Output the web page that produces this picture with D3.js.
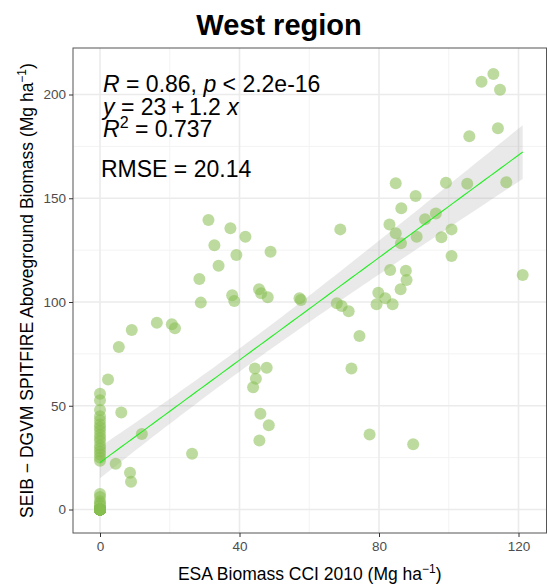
<!DOCTYPE html>
<html>
<head>
<meta charset="utf-8">
<script src="https://cdn.jsdelivr.net/npm/d3@7"></script>
<style>
body{margin:0;background:#fff;}
text{font-family:"Liberation Sans",Arial,sans-serif;}
</style>
</head>
<body>
<div class="scatter"></div>
<script>
// ESA CCI (x) vs SEIB-DGVM (y), one pair per site
// the x=0,y=0 corner is fully saturated: many sites stacked there
var esa=[0,0,0,0,0,0,0,0,0,0,0,0,0,0,0,0,0,0,0,0,0,0,0,0,0,
	0,0,0,0,0,0,0,0,0,0,0,0,0,0,0,0,0,0,0,0,0,0,0,
	2.3,4.5,5.4,6.1,8.6,8.9,9.1,12.0,16.3,20.6,21.5,26.4,28.5,28.9,31.1,32.8,34.0,37.4,37.9,38.5,
	39.1,41.7,43.9,44.4,44.7,45.6,45.7,46.0,46.2,47.8,48.1,48.4,48.9,57.2,57.6,67.9,68.9,69.3,
	71.3,72.1,74.4,77.3,79.3,79.8,81.8,83.0,83.2,83.9,84.8,84.8,86.2,86.3,86.4,87.7,87.9,89.8,
	90.5,90.8,93.2,96.3,97.9,99.2,100.8,100.8,105.3,105.9,109.4,112.8,114.1,114.7,116.5,121.2];
var seib=[0,0,0,0,0,0,0,0,0,0,0,0,0,0,0,0,0,0,0,0,0,0,0,0,3,
	0,0,2,4,6,7.5,23.5,25,26.5,28,29.5,31,33,34.5,36,38,39.5,41,43,45,48,52.6,55.8,
	62.6,22.1,78.3,46.7,17.7,13.4,86.5,36.4,90.0,89.3,87.3,26.9,111.1,99.7,139.5,127.3,117.5,135.5,103.2,100.5,
	122.7,131.5,58.9,68.0,63.0,106.1,33.3,46.2,104.2,68.3,102.3,40.6,124.2,101.8,101.0,99.4,135.0,98.1,
	95.5,68.0,83.6,36.1,98.9,104.5,101.8,137.4,115.4,98.9,157.2,133.1,106.2,128.3,145.2,115.1,110.6,31.4,
	151.1,131.5,139.9,142.7,131.2,157.5,135.0,122.2,157.0,179.9,206.2,209.9,183.7,202.3,157.7,113.0];
var xTicks=[0,40,80,120];
var xMinor=[20,60,100];
var yTicks=[0,50,100,150,200];
var yMinor=[25,75,125,175];
var statLines=["R = 0.86, p < 2.2e-16","y = 23 + 1.2 x","R2 = 0.737","RMSE = 20.14"];

var width=548,height=587;
var pLeft=73,pRight=546.5,pTop=48,pBottom=533;

var svg=d3.select('div.scatter')
	.append('svg')
	.attr('width',width)
	.attr('height',height);

var xScale=d3.scaleLinear().domain([0,120]).range([100,518.5]);
var yScale=d3.scaleLinear().domain([0,200]).range([509.5,94.5]);

var pts=esa.map(function(d,i){return {x:d,y:seib[i]};});

// grid
var grid=svg.append('g');
grid.selectAll('.vminor').data(xMinor).enter().append('line')
	.attr('x1',d=>xScale(d)).attr('x2',d=>xScale(d))
	.attr('y1',pTop).attr('y2',pBottom)
	.attr('stroke','#f3f3f3').attr('stroke-width',1);
grid.selectAll('.hminor').data(yMinor).enter().append('line')
	.attr('y1',d=>yScale(d)).attr('y2',d=>yScale(d))
	.attr('x1',pLeft).attr('x2',pRight)
	.attr('stroke','#f3f3f3').attr('stroke-width',1);
grid.selectAll('.vmajor').data(xTicks).enter().append('line')
	.attr('x1',d=>xScale(d)).attr('x2',d=>xScale(d))
	.attr('y1',pTop).attr('y2',pBottom)
	.attr('stroke','#ebebeb').attr('stroke-width',1.6);
grid.selectAll('.hmajor').data(yTicks).enter().append('line')
	.attr('y1',d=>yScale(d)).attr('y2',d=>yScale(d))
	.attr('x1',pLeft).attr('x2',pRight)
	.attr('stroke','#ebebeb').attr('stroke-width',1.6);

// linear fit + 95% band like geom_smooth(method="lm")
var n=pts.length;
var mx=d3.mean(pts,d=>d.x),my=d3.mean(pts,d=>d.y);
var sxx=d3.sum(pts,d=>(d.x-mx)*(d.x-mx));
var sxy=d3.sum(pts,d=>(d.x-mx)*(d.y-my));
var b=sxy/sxx,a=my-b*mx;
var sse=d3.sum(pts,d=>Math.pow(d.y-(a+b*d.x),2));
var se=Math.sqrt(sse/(n-2));
var tq=1.98;
var xr=d3.extent(esa);
var fit=d3.range(80).map(function(i){
	var x=xr[0]+(xr[1]-xr[0])*i/79;
	var h=tq*se*Math.sqrt(1/n+(x-mx)*(x-mx)/sxx);
	return {x:x,y:a+b*x,lo:a+b*x-h,hi:a+b*x+h};
});

svg.append('path').datum(fit)
	.attr('d',d3.area().x(d=>xScale(d.x)).y0(d=>yScale(d.lo)).y1(d=>yScale(d.hi)))
	.attr('fill','#999999').attr('fill-opacity',0.22);

// points
svg.append('g').selectAll('circle')
	.data(pts)
	.enter()
	.append('circle')
	.attr('cx',d=>xScale(d.x))
	.attr('cy',d=>yScale(d.y))
	.attr('r',6)
	.attr('fill','#87be50')
	.attr('fill-opacity',0.55);

svg.append('path').datum(fit)
	.attr('d',d3.line().x(d=>xScale(d.x)).y(d=>yScale(d.y)))
	.attr('fill','none').attr('stroke','#22ee22').attr('stroke-width',1.1);

// panel border
svg.append('rect')
	.attr('x',pLeft).attr('y',pTop)
	.attr('width',pRight-pLeft).attr('height',pBottom-pTop)
	.attr('fill','none').attr('stroke','#555').attr('stroke-width',1);

// axes
var gx=svg.append('g')
	.attr('transform','translate(0,'+pBottom+')')
	.call(d3.axisBottom(xScale).tickValues(xTicks).tickSize(4).tickPadding(4));
var gy=svg.append('g')
	.attr('transform','translate('+pLeft+',0)')
	.call(d3.axisLeft(yScale).tickValues(yTicks).tickSize(4).tickPadding(3));
[gx,gy].forEach(function(g){
	g.select('.domain').remove();
	g.selectAll('line').attr('stroke','#333');
	g.selectAll('text').attr('fill','#4d4d4d').attr('font-size','13.5px')
		.style('font-family','"Liberation Sans",Arial,sans-serif');
});

// title
svg.append('text')
	.attr('x',279).attr('y',35)
	.attr('text-anchor','middle')
	.attr('font-size','29px').attr('font-weight','bold')
	.text('West region');

// axis titles
var xt=svg.append('text')
	.attr('x',(pLeft+pRight)/2).attr('y',580)
	.attr('text-anchor','middle')
	.attr('font-size','17.5px').attr('fill','#000');
xt.append('tspan').text('ESA Biomass CCI 2010 (Mg ha');
xt.append('tspan').attr('font-size','12px').attr('dy',-7).text('\u22121');
xt.append('tspan').attr('dy',7).text(')');

var yt=svg.append('text')
	.attr('transform','translate(33,'+((pTop+pBottom)/2)+') rotate(-90)')
	.attr('text-anchor','middle')
	.attr('font-size','17.5px').attr('fill','#000');
yt.append('tspan').text('SEIB \u2212 DGVM SPITFIRE Aboveground Biomass (Mg ha');
yt.append('tspan').attr('font-size','12px').attr('dy',-7).text('\u22121');
yt.append('tspan').attr('dy',7).text(')');

// stats text
var st=svg.append('g').attr('font-size','23px').attr('fill','#000');
var l1=st.append('text').attr('x',103).attr('y',92);
l1.append('tspan').attr('font-style','italic').text('R');
l1.append('tspan').text(' = 0.86, ');
l1.append('tspan').attr('font-style','italic').text('p');
l1.append('tspan').text(' < 2.2e-16');
var l2=st.append('text').attr('x',103).attr('y',115);
l2.append('tspan').attr('font-style','italic').text('y');
l2.append('tspan').text(' = 23\u2009+\u20091.2 ');
l2.append('tspan').attr('font-style','italic').text('x');
var l3=st.append('text').attr('x',103).attr('y',137);
l3.append('tspan').attr('font-style','italic').text('R');
l3.append('tspan').attr('font-size','16px').attr('dy',-9).text('2');
l3.append('tspan').attr('dy',9).text(' = 0.737');
st.append('text').attr('x',101).attr('y',177).text(statLines[3]);
</script>
</body>
</html>
